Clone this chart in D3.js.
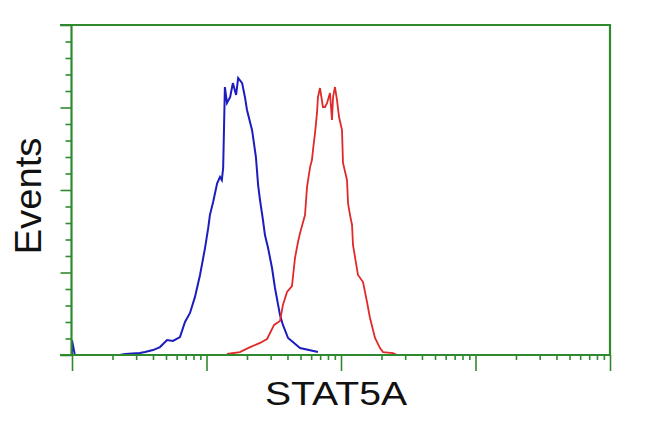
<!DOCTYPE html>
<html>
<head>
<meta charset="utf-8">
<script src="https://cdn.jsdelivr.net/npm/d3@7"></script>
<style>
  html, body { margin: 0; padding: 0; background: #fff; }
  svg { display: block; }
</style>
</head>
<body>
<svg id="chart" width="650" height="432"></svg>
<script>
// ---- data ----
const xLabel = "STAT5A";
const yLabel = "Events";
const xDomain = [1, 10000];
const yDomain = [0, 200];

// Blue (control) histogram: fluorescence intensity and event count
const blueIntensity = [1, 1, 1.05, 2.27, 2.48, 3.2, 3.49, 4.0, 4.51, 5.09, 5.63, 6.35, 6.92, 7.54, 8.21, 8.95, 9.75, 10.3, 10.6, 11.2, 12.0, 12.6, 13.0, 13.3, 13.7, 14.2, 15.0, 15.7, 16.6, 17.2, 18.4, 19.3, 20.0, 21.8, 22.2, 23.3, 24.2, 25.0, 26.3, 27.2, 28.7, 30.7, 32.3, 35.2, 37.0, 40.4, 49.6, 67.4];
const blueCount =     [0, 9, 0, 0, 0.6, 1.2, 1.8, 3.0, 4.8, 9.1, 8.5, 10.9, 20, 25.5, 35.2, 48.5, 64.8, 77, 84.8, 92.7, 104, 107.9, 106, 113.3, 162.4, 152.7, 156.4, 164.8, 157.6, 167.9, 164.8, 156.4, 148.5, 136.4, 132.1, 120, 103, 93.9, 81.8, 72.7, 64.8, 52.7, 40.6, 24.2, 18.2, 10.3, 4.2, 1.8, 0];

// Red (STAT5A stained) histogram
const redIntensity = [14.2, 17.7, 21.1, 25.0, 28.2, 31.8, 35.2, 37.0, 39.7, 43.2, 45.5, 47.9, 49.6, 54.0, 55.9, 58.9, 60.8, 61.9, 64.1, 66.3, 67.4, 69.8, 73.4, 76.0, 78.7, 82.8, 85.7, 87.3, 90.2, 93.4, 96.7, 101.7, 103.5, 110.8, 112.8, 116.7, 120.8, 122.8, 133.7, 145.8, 156.1, 164.3, 179.0, 195.0, 205.3, 243.6, 260.8];
const redCount =     [0.6, 1.8, 4.8, 7.3, 9.7, 18.2, 20.6, 30.3, 38.2, 41.8, 58.8, 68.5, 73.9, 84.8, 101.8, 113.9, 118.2, 124.2, 134.5, 146.7, 156.4, 161.8, 150.3, 150.3, 152.7, 158.8, 142.4, 156.4, 162.4, 154.5, 144.2, 136.4, 116.4, 106.1, 92.1, 84.8, 78.8, 66.7, 48.5, 44.2, 32.1, 22.4, 10.3, 4.2, 1.8, 1.2, 0];

// y tick values (every 10 events, longer every 50)
const yMinorStep = 10;
const yMajorStep = 50;

// ---- drawing ----
const green = "#2f8a2f";
const svg = d3.select("#chart");
const mLeft = 72, mRight = 610, mTop = 25, mBottom = 355;

const x = d3.scaleLog().domain(xDomain).range([mLeft, mRight]);
const y = d3.scaleLinear().domain(yDomain).range([mBottom, mTop]);

const blue = blueIntensity.map((v, i) => [v, blueCount[i]]);
const red = redIntensity.map((v, i) => [v, redCount[i]]);

const line = d3.line().x(d => x(d[0])).y(d => y(d[1]));

svg.append("path").datum(blue)
  .attr("d", line).attr("fill", "none")
  .attr("stroke", "#1c1cbf").attr("stroke-width", 2)
  .attr("stroke-linejoin", "miter");

svg.append("path").datum(red)
  .attr("d", line).attr("fill", "none")
  .attr("stroke", "#e02a2a").attr("stroke-width", 1.8)
  .attr("stroke-linejoin", "miter");

// Axes
const yTicks = d3.range(yDomain[0], yDomain[1] + 0.001, yMinorStep);
const yAxis = d3.axisLeft(y).tickValues(yTicks)
  .tickSize(6).tickFormat("");
const gy = svg.append("g").attr("transform", `translate(${mLeft - 0.5},0)`).call(yAxis);
gy.selectAll("line").attr("x2", d => (d % yMajorStep === 0) ? -11 : -6);

const xTicks = [];
for (let e = 0; e < 4; e++) for (let m = 1; m < 10; m++) xTicks.push(m * Math.pow(10, e));
xTicks.push(10000);
const xAxis = d3.axisBottom(x).tickValues(xTicks).tickSize(5).tickFormat("");
const gx = svg.append("g").attr("transform", `translate(0,${mBottom})`).call(xAxis);
gx.selectAll("line").attr("y2", d => (Math.abs(Math.log10(d) - Math.round(Math.log10(d))) < 1e-9) ? 16 : 5);

svg.selectAll(".domain").remove();
svg.selectAll(".tick line").attr("stroke", green).attr("stroke-width", 1.6);

// frame
svg.append("path")
  .attr("d", `M${mLeft - 12},${mTop} H${mRight} V${mBottom} H${mLeft - 12}`)
  .attr("fill", "none").attr("stroke", green).attr("stroke-width", 2.2);
svg.append("line")
  .attr("x1", mLeft - 0.5).attr("x2", mLeft - 0.5).attr("y1", mTop).attr("y2", mBottom + 1)
  .attr("stroke", green).attr("stroke-width", 2.2);

// labels
svg.append("text")
  .attr("x", 336).attr("y", 405)
  .attr("text-anchor", "middle")
  .attr("font-family", "Liberation Sans, Arial, sans-serif")
  .attr("font-size", 33)
  .attr("fill", "#111")
  .attr("textLength", 142).attr("lengthAdjust", "spacingAndGlyphs")
  .text(xLabel);

svg.append("text")
  .attr("transform", "translate(41,196) rotate(-90)")
  .attr("text-anchor", "middle")
  .attr("font-family", "Liberation Sans, Arial, sans-serif")
  .attr("font-size", 37)
  .attr("fill", "#111")
  .attr("textLength", 117).attr("lengthAdjust", "spacingAndGlyphs")
  .text(yLabel);
</script>
</body>
</html>
